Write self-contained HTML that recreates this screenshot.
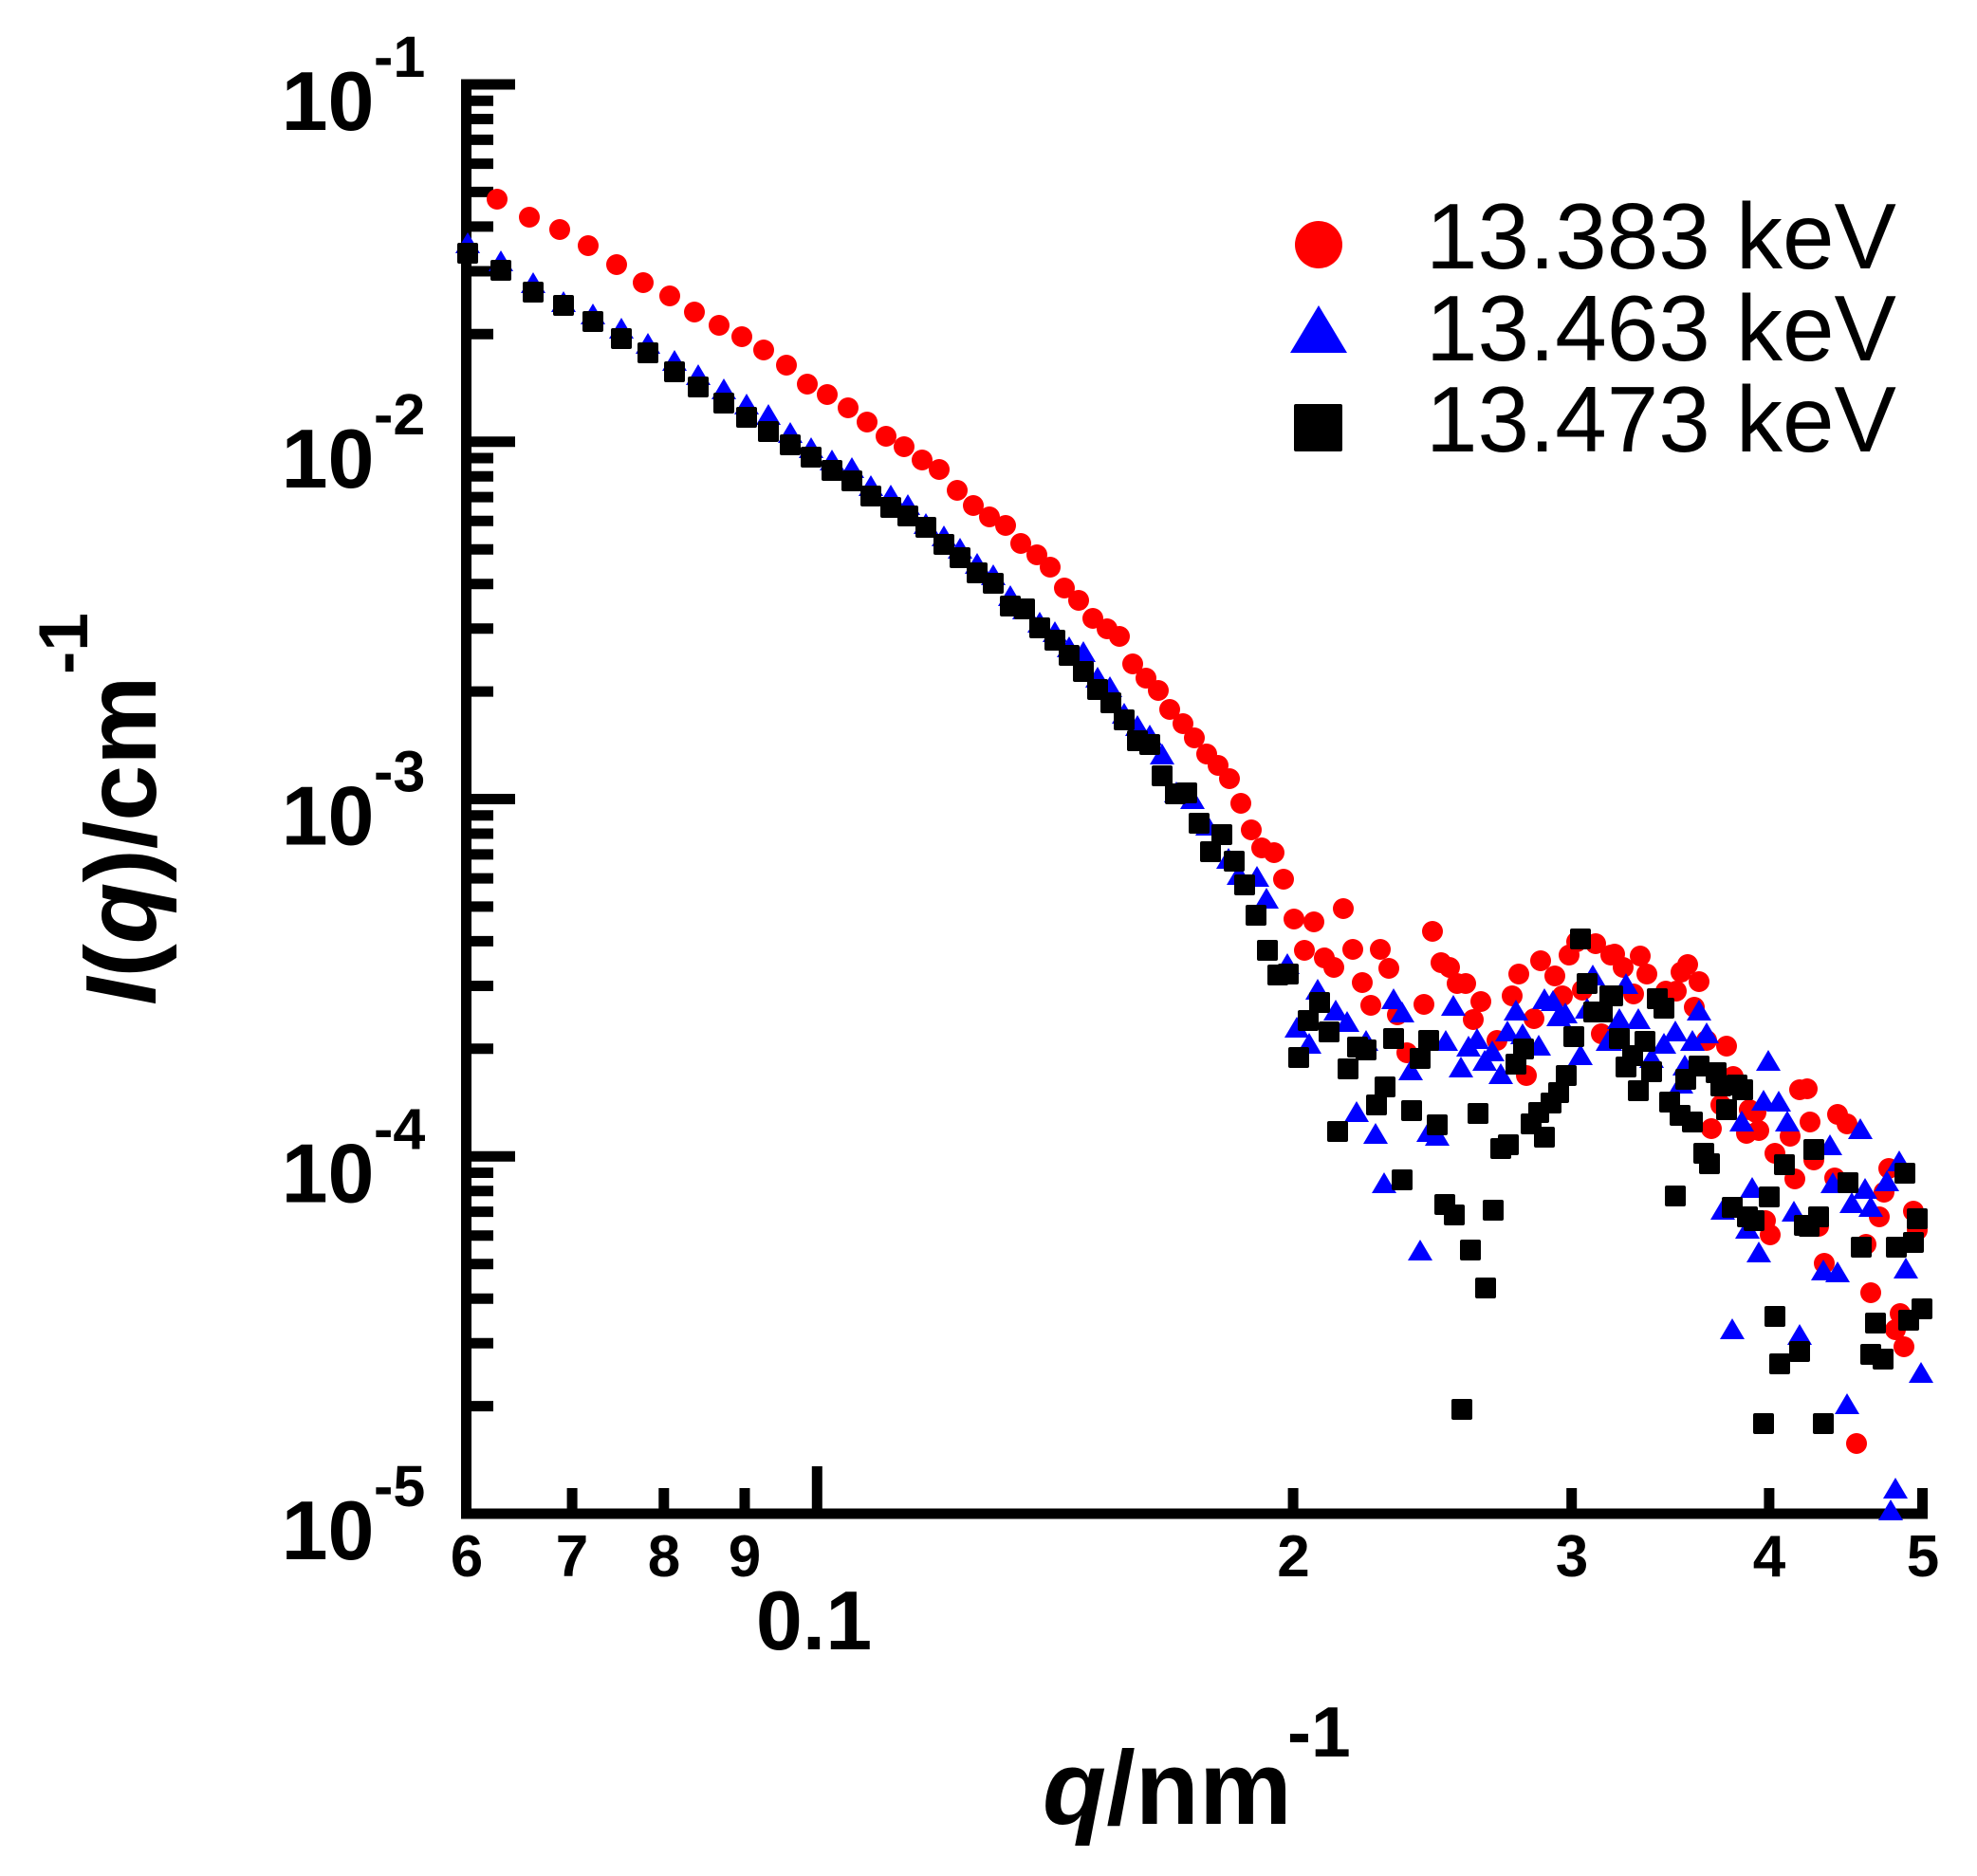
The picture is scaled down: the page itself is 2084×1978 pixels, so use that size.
<!DOCTYPE html>
<html><head><meta charset="utf-8"><style>html,body{margin:0;padding:0;background:#fff}svg{display:block}</style></head><body>
<svg width="2084" height="1978" viewBox="0 0 2084 1978" xmlns="http://www.w3.org/2000/svg" font-family="'Liberation Sans', Arial, sans-serif">
<defs>
<path id="t" d="M0 -11L13 11H-13Z" fill="#00f"/>
<rect id="s" x="-11" y="-11" width="22" height="22" rx="2" fill="#000"/>
</defs>
<rect width="2084" height="1978" fill="#fff"/>
<!-- axes -->
<rect x="486" y="83.5" width="11" height="1518" fill="#000"/>
<rect x="486" y="1590.5" width="1546" height="11" fill="#000"/>
<!-- y major ticks -->
<path d="M497 89H543M497 465.75H543M497 842.5H543M497 1219.25H543" stroke="#000" stroke-width="11"/>
<!-- y minor ticks -->
<path d="M497 352.3H520M497 286H520M497 238.9H520M497 202.4H520M497 172.6H520M497 147.4H520M497 125.5H520M497 106.2H520
M497 729.1H520M497 662.7H520M497 615.7H520M497 579.2H520M497 549.3H520M497 524.1H520M497 502.3H520M497 483H520
M497 1105.8H520M497 1039.5H520M497 992.4H520M497 955.9H520M497 926.1H520M497 900.9H520M497 879H520M497 859.7H520
M497 1482.6H520M497 1416.2H520M497 1369.2H520M497 1332.7H520M497 1302.8H520M497 1277.6H520M497 1255.8H520M497 1236.5H520" stroke="#000" stroke-width="11"/>
<!-- x ticks -->
<path d="M603.1 1591V1569M699.8 1591V1569M785 1591V1569M1363.1 1591V1569M1656.7 1591V1569M1864.9 1591V1569M2026.5 1591V1569" stroke="#000" stroke-width="11"/>
<path d="M861.3 1591V1546" stroke="#000" stroke-width="11"/>
<!-- y tick labels -->
<g font-weight="bold" fill="#000">
<text x="394.5" y="137" text-anchor="end" font-size="88">10</text>
<text x="394" y="81" font-size="61">-1</text>
<text x="394.5" y="513.75" text-anchor="end" font-size="88">10</text>
<text x="394" y="457.75" font-size="61">-2</text>
<text x="394.5" y="890.5" text-anchor="end" font-size="88">10</text>
<text x="394" y="834.5" font-size="61">-3</text>
<text x="394.5" y="1267.25" text-anchor="end" font-size="88">10</text>
<text x="394" y="1211.25" font-size="61">-4</text>
<text x="394.5" y="1644" text-anchor="end" font-size="88">10</text>
<text x="394" y="1588" font-size="61">-5</text>
</g>
<!-- x tick labels -->
<g font-weight="bold" fill="#000" font-size="62" text-anchor="middle">
<text x="492" y="1662">6</text>
<text x="603" y="1662">7</text>
<text x="700" y="1662">8</text>
<text x="785" y="1662">9</text>
<text x="1363.5" y="1662">2</text>
<text x="1657" y="1662">3</text>
<text x="1865" y="1662">4</text>
<text x="2027" y="1662">5</text>
</g>
<text x="858" y="1739" font-size="88" font-weight="bold" text-anchor="middle">0.1</text>
<!-- axis titles -->
<text x="1099" y="1923" font-size="110" font-weight="bold"><tspan font-style="italic">q</tspan>/nm</text>
<text x="1357" y="1852" font-size="75" font-weight="bold">-1</text>
<text transform="translate(164,1060) rotate(-90)" font-size="106" font-weight="bold"><tspan font-style="italic">I</tspan>(<tspan font-style="italic">q</tspan>)/cm</text>
<text transform="translate(92,711) rotate(-90)" font-size="73" font-weight="bold">-1</text>
<!-- legend -->
<circle cx="1390" cy="258" r="25" fill="#f00"/>
<path d="M1390 322L1420 372H1360Z" fill="#00f"/>
<rect x="1364" y="426" width="51" height="50" rx="2" fill="#000"/>
<g font-size="98" fill="#000">
<text x="1503" y="283">13.383 keV</text>
<text x="1503" y="380">13.463 keV</text>
<text x="1503" y="476">13.473 keV</text>
</g>
<!-- red circles -->
<g fill="#f00">
<circle cx="524" cy="210" r="11"/><circle cx="558" cy="229" r="11"/><circle cx="590" cy="242" r="11"/><circle cx="620" cy="259" r="11"/><circle cx="650" cy="279" r="11"/><circle cx="678" cy="298" r="11"/><circle cx="706" cy="312" r="11"/><circle cx="732" cy="329" r="11"/><circle cx="758" cy="343" r="11"/><circle cx="782" cy="355" r="11"/><circle cx="805" cy="369" r="11"/><circle cx="829" cy="385" r="11"/><circle cx="851" cy="405" r="11"/><circle cx="872" cy="416" r="11"/><circle cx="894" cy="430" r="11"/><circle cx="914" cy="445" r="11"/><circle cx="934" cy="460" r="11"/><circle cx="953" cy="471" r="11"/><circle cx="972" cy="485" r="11"/><circle cx="990" cy="495" r="11"/><circle cx="1009" cy="517" r="11"/><circle cx="1026" cy="533" r="11"/><circle cx="1043" cy="545" r="11"/><circle cx="1060" cy="554" r="11"/><circle cx="1076" cy="573" r="11"/><circle cx="1093" cy="585" r="11"/>
<circle cx="1107" cy="598" r="11"/><circle cx="1122" cy="620" r="11"/><circle cx="1137" cy="633" r="11"/><circle cx="1152" cy="652" r="11"/><circle cx="1167" cy="663" r="11"/><circle cx="1180" cy="671" r="11"/><circle cx="1194" cy="700" r="11"/><circle cx="1208" cy="715" r="11"/><circle cx="1221" cy="728" r="11"/><circle cx="1233" cy="748" r="11"/><circle cx="1247" cy="763" r="11"/><circle cx="1259" cy="778" r="11"/><circle cx="1272" cy="795" r="11"/><circle cx="1284" cy="807" r="11"/><circle cx="1296" cy="821" r="11"/><circle cx="1308" cy="847" r="11"/><circle cx="1319" cy="875" r="11"/><circle cx="1330" cy="894" r="11"/><circle cx="1343" cy="899" r="11"/><circle cx="1353" cy="927" r="11"/>
<circle cx="1364" cy="969" r="11"/><circle cx="1385" cy="972" r="11"/><circle cx="1416" cy="958" r="11"/><circle cx="1510" cy="982" r="11"/><circle cx="1375" cy="1002" r="11"/><circle cx="1396" cy="1010" r="11"/><circle cx="1406" cy="1020" r="11"/><circle cx="1426" cy="1001" r="11"/><circle cx="1455" cy="1001" r="11"/><circle cx="1464" cy="1021" r="11"/><circle cx="1436" cy="1036" r="11"/><circle cx="1445" cy="1060" r="11"/><circle cx="1473" cy="1070" r="11"/><circle cx="1483" cy="1110" r="11"/><circle cx="1501" cy="1059" r="11"/><circle cx="1519" cy="1015" r="11"/><circle cx="1528" cy="1020" r="11"/><circle cx="1536" cy="1037" r="11"/><circle cx="1545" cy="1037" r="11"/><circle cx="1561" cy="1056" r="11"/><circle cx="1553" cy="1075" r="11"/><circle cx="1578" cy="1097" r="11"/><circle cx="1594" cy="1050" r="11"/><circle cx="1601" cy="1027" r="11"/><circle cx="1609" cy="1134" r="11"/><circle cx="1617" cy="1074" r="11"/><circle cx="1624" cy="1013" r="11"/><circle cx="1639" cy="1029" r="11"/><circle cx="1647" cy="1050" r="11"/><circle cx="1654" cy="1007" r="11"/><circle cx="1662" cy="993" r="11"/><circle cx="1682" cy="995" r="11"/><circle cx="1668" cy="1044" r="11"/><circle cx="1688" cy="1090" r="11"/><circle cx="1698" cy="1007" r="11"/>
<circle cx="1702" cy="1006" r="11"/><circle cx="1729" cy="1008" r="11"/><circle cx="1711" cy="1020" r="11"/><circle cx="1736" cy="1027" r="11"/><circle cx="1779" cy="1017" r="11"/><circle cx="1772" cy="1025" r="11"/><circle cx="1791" cy="1035" r="11"/><circle cx="1756" cy="1045" r="11"/><circle cx="1767" cy="1045" r="11"/><circle cx="1722" cy="1048" r="11"/><circle cx="1786" cy="1062" r="11"/><circle cx="1799" cy="1097" r="11"/><circle cx="1820" cy="1103" r="11"/><circle cx="1827" cy="1135" r="11"/><circle cx="1897" cy="1149" r="11"/><circle cx="1905" cy="1148" r="11"/><circle cx="1814" cy="1165" r="11"/><circle cx="1844" cy="1170" r="11"/><circle cx="1851" cy="1173" r="11"/><circle cx="1804" cy="1190" r="11"/><circle cx="1841" cy="1195" r="11"/><circle cx="1854" cy="1192" r="11"/><circle cx="1887" cy="1198" r="11"/><circle cx="1908" cy="1183" r="11"/><circle cx="1937" cy="1175" r="11"/><circle cx="1947" cy="1185" r="11"/><circle cx="1871" cy="1216" r="11"/><circle cx="1912" cy="1223" r="11"/><circle cx="1892" cy="1243" r="11"/><circle cx="1934" cy="1242" r="11"/><circle cx="1991" cy="1232" r="11"/><circle cx="1986" cy="1257" r="11"/><circle cx="2017" cy="1277" r="11"/><circle cx="1981" cy="1283" r="11"/><circle cx="1861" cy="1287" r="11"/><circle cx="1866" cy="1302" r="11"/><circle cx="2021" cy="1297" r="11"/><circle cx="1917" cy="1293" r="11"/><circle cx="1967" cy="1312" r="11"/><circle cx="1923" cy="1332" r="11"/><circle cx="1972" cy="1363" r="11"/><circle cx="2003" cy="1385" r="11"/><circle cx="1998" cy="1402" r="11"/><circle cx="2007" cy="1420" r="11"/><circle cx="1957" cy="1522" r="11"/>
</g>
<!-- blue triangles -->
<g>
<use href="#t" x="493" y="256"/><use href="#t" x="528" y="275"/><use href="#t" x="562" y="298"/><use href="#t" x="594" y="318"/><use href="#t" x="625" y="331"/><use href="#t" x="655" y="346"/><use href="#t" x="683" y="362"/><use href="#t" x="711" y="380"/><use href="#t" x="736" y="395"/><use href="#t" x="763" y="410"/><use href="#t" x="787" y="426"/><use href="#t" x="810" y="437"/><use href="#t" x="833" y="456"/><use href="#t" x="855" y="472"/><use href="#t" x="877" y="485"/><use href="#t" x="898" y="493"/><use href="#t" x="918" y="512"/><use href="#t" x="939" y="522"/><use href="#t" x="957" y="532"/><use href="#t" x="976" y="552"/><use href="#t" x="995" y="565"/><use href="#t" x="1012" y="578"/><use href="#t" x="1030" y="594"/><use href="#t" x="1047" y="606"/><use href="#t" x="1065" y="628"/><use href="#t" x="1080" y="642"/><use href="#t" x="1096" y="656"/>
<use href="#t" x="1112" y="666"/><use href="#t" x="1127" y="682"/><use href="#t" x="1142" y="687"/><use href="#t" x="1157" y="714"/><use href="#t" x="1170" y="724"/><use href="#t" x="1185" y="752"/><use href="#t" x="1199" y="765"/><use href="#t" x="1212" y="775"/><use href="#t" x="1225" y="795"/><use href="#t" x="1240" y="835"/><use href="#t" x="1257" y="842"/><use href="#t" x="1273" y="870"/><use href="#t" x="1295" y="905"/><use href="#t" x="1306" y="922"/><use href="#t" x="1325" y="924"/><use href="#t" x="1335" y="947"/>
<use href="#t" x="1357" y="1016"/><use href="#t" x="1389" y="1043"/><use href="#t" x="1408" y="1065"/><use href="#t" x="1420" y="1077"/><use href="#t" x="1367" y="1083"/><use href="#t" x="1380" y="1100"/><use href="#t" x="1440" y="1097"/><use href="#t" x="1469" y="1053"/><use href="#t" x="1478" y="1067"/><use href="#t" x="1487" y="1128"/><use href="#t" x="1532" y="1060"/><use href="#t" x="1524" y="1097"/><use href="#t" x="1548" y="1103"/><use href="#t" x="1557" y="1095"/><use href="#t" x="1540" y="1125"/><use href="#t" x="1573" y="1108"/><use href="#t" x="1565" y="1118"/><use href="#t" x="1582" y="1132"/><use href="#t" x="1598" y="1065"/><use href="#t" x="1589" y="1087"/><use href="#t" x="1605" y="1090"/><use href="#t" x="1622" y="1102"/><use href="#t" x="1628" y="1053"/><use href="#t" x="1637" y="1055"/><use href="#t" x="1650" y="1068"/><use href="#t" x="1643" y="1071"/><use href="#t" x="1666" y="1112"/><use href="#t" x="1679" y="1028"/><use href="#t" x="1673" y="1063"/><use href="#t" x="1695" y="1097"/><use href="#t" x="1430" y="1172"/><use href="#t" x="1450" y="1195"/><use href="#t" x="1506" y="1193"/><use href="#t" x="1515" y="1197"/><use href="#t" x="1459" y="1247"/><use href="#t" x="1497" y="1318"/>
<use href="#t" x="1714" y="1037"/><use href="#t" x="1707" y="1074"/><use href="#t" x="1727" y="1074"/><use href="#t" x="1791" y="1065"/><use href="#t" x="1766" y="1087"/><use href="#t" x="1754" y="1100"/><use href="#t" x="1784" y="1097"/><use href="#t" x="1799" y="1089"/><use href="#t" x="1697" y="1097"/><use href="#t" x="1741" y="1115"/><use href="#t" x="1864" y="1118"/><use href="#t" x="1776" y="1123"/><use href="#t" x="1772" y="1142"/><use href="#t" x="1859" y="1160"/><use href="#t" x="1875" y="1161"/><use href="#t" x="1836" y="1182"/><use href="#t" x="1884" y="1182"/><use href="#t" x="1961" y="1190"/><use href="#t" x="1929" y="1207"/><use href="#t" x="2002" y="1224"/><use href="#t" x="1932" y="1247"/><use href="#t" x="1989" y="1245"/><use href="#t" x="1847" y="1252"/><use href="#t" x="1966" y="1253"/><use href="#t" x="1952" y="1268"/><use href="#t" x="1972" y="1272"/><use href="#t" x="1891" y="1277"/><use href="#t" x="1816" y="1275"/><use href="#t" x="1842" y="1295"/><use href="#t" x="1854" y="1320"/><use href="#t" x="1922" y="1339"/><use href="#t" x="1937" y="1341"/><use href="#t" x="2009" y="1337"/><use href="#t" x="1826" y="1401"/><use href="#t" x="1897" y="1407"/><use href="#t" x="1947" y="1480"/><use href="#t" x="2025" y="1447"/><use href="#t" x="1998" y="1569"/><use href="#t" x="1993" y="1592"/>
</g>
<!-- black squares -->
<g>
<use href="#s" x="493" y="267"/><use href="#s" x="528" y="285"/><use href="#s" x="562" y="308"/><use href="#s" x="594" y="322"/><use href="#s" x="625" y="339"/><use href="#s" x="655" y="357"/><use href="#s" x="683" y="372"/><use href="#s" x="711" y="392"/><use href="#s" x="736" y="408"/><use href="#s" x="763" y="425"/><use href="#s" x="787" y="440"/><use href="#s" x="810" y="455"/><use href="#s" x="833" y="469"/><use href="#s" x="855" y="482"/><use href="#s" x="877" y="496"/><use href="#s" x="898" y="507"/><use href="#s" x="918" y="523"/><use href="#s" x="939" y="535"/><use href="#s" x="957" y="544"/><use href="#s" x="976" y="556"/><use href="#s" x="995" y="574"/><use href="#s" x="1012" y="588"/><use href="#s" x="1030" y="604"/><use href="#s" x="1047" y="615"/><use href="#s" x="1065" y="639"/><use href="#s" x="1080" y="642"/><use href="#s" x="1096" y="662"/>
<use href="#s" x="1112" y="675"/><use href="#s" x="1127" y="691"/><use href="#s" x="1142" y="708"/><use href="#s" x="1157" y="727"/><use href="#s" x="1171" y="741"/><use href="#s" x="1185" y="759"/><use href="#s" x="1199" y="781"/><use href="#s" x="1212" y="785"/><use href="#s" x="1225" y="818"/><use href="#s" x="1239" y="837"/><use href="#s" x="1251" y="836"/><use href="#s" x="1264" y="868"/><use href="#s" x="1276" y="898"/><use href="#s" x="1288" y="880"/><use href="#s" x="1301" y="908"/><use href="#s" x="1312" y="933"/><use href="#s" x="1324" y="965"/>
<use href="#s" x="1336" y="1002"/><use href="#s" x="1347" y="1028"/><use href="#s" x="1358" y="1027"/><use href="#s" x="1391" y="1057"/><use href="#s" x="1379" y="1076"/><use href="#s" x="1401" y="1088"/><use href="#s" x="1369" y="1115"/><use href="#s" x="1431" y="1104"/><use href="#s" x="1440" y="1107"/><use href="#s" x="1421" y="1127"/><use href="#s" x="1469" y="1095"/><use href="#s" x="1506" y="1097"/><use href="#s" x="1497" y="1116"/><use href="#s" x="1460" y="1146"/><use href="#s" x="1451" y="1165"/><use href="#s" x="1410" y="1193"/><use href="#s" x="1488" y="1171"/><use href="#s" x="1515" y="1186"/><use href="#s" x="1558" y="1174"/><use href="#s" x="1478" y="1244"/><use href="#s" x="1523" y="1270"/><use href="#s" x="1533" y="1281"/><use href="#s" x="1574" y="1276"/><use href="#s" x="1550" y="1318"/><use href="#s" x="1582" y="1211"/><use href="#s" x="1590" y="1207"/><use href="#s" x="1614" y="1185"/><use href="#s" x="1622" y="1173"/><use href="#s" x="1628" y="1199"/><use href="#s" x="1635" y="1163"/><use href="#s" x="1643" y="1152"/><use href="#s" x="1651" y="1134"/><use href="#s" x="1606" y="1106"/><use href="#s" x="1598" y="1122"/><use href="#s" x="1659" y="1093"/><use href="#s" x="1666" y="990"/><use href="#s" x="1673" y="1037"/><use href="#s" x="1680" y="1067"/><use href="#s" x="1688" y="1067"/><use href="#s" x="1697" y="1050"/><use href="#s" x="1566" y="1358"/><use href="#s" x="1541" y="1486"/>
<use href="#s" x="1700" y="1050"/><use href="#s" x="1689" y="1067"/><use href="#s" x="1747" y="1053"/><use href="#s" x="1754" y="1063"/><use href="#s" x="1707" y="1095"/><use href="#s" x="1734" y="1098"/><use href="#s" x="1721" y="1113"/><use href="#s" x="1714" y="1125"/><use href="#s" x="1741" y="1130"/><use href="#s" x="1791" y="1124"/><use href="#s" x="1809" y="1131"/><use href="#s" x="1777" y="1138"/><use href="#s" x="1727" y="1150"/><use href="#s" x="1814" y="1145"/><use href="#s" x="1831" y="1144"/><use href="#s" x="1837" y="1149"/><use href="#s" x="1760" y="1162"/><use href="#s" x="1820" y="1170"/><use href="#s" x="1771" y="1176"/><use href="#s" x="1784" y="1183"/><use href="#s" x="1912" y="1212"/><use href="#s" x="1796" y="1216"/><use href="#s" x="1802" y="1227"/><use href="#s" x="1881" y="1228"/><use href="#s" x="2008" y="1237"/><use href="#s" x="1948" y="1247"/><use href="#s" x="1766" y="1261"/><use href="#s" x="1865" y="1262"/><use href="#s" x="1826" y="1273"/><use href="#s" x="1842" y="1283"/><use href="#s" x="1849" y="1287"/><use href="#s" x="1917" y="1283"/><use href="#s" x="1902" y="1292"/><use href="#s" x="1907" y="1293"/><use href="#s" x="2021" y="1285"/><use href="#s" x="1962" y="1315"/><use href="#s" x="1999" y="1315"/><use href="#s" x="2017" y="1310"/>
<use href="#s" x="1871" y="1388"/><use href="#s" x="2026" y="1380"/><use href="#s" x="1977" y="1395"/><use href="#s" x="2012" y="1392"/><use href="#s" x="1897" y="1425"/><use href="#s" x="1876" y="1438"/><use href="#s" x="1972" y="1428"/><use href="#s" x="1985" y="1433"/><use href="#s" x="1859" y="1501"/><use href="#s" x="1922" y="1501"/>
</g>
</svg>
</body></html>
